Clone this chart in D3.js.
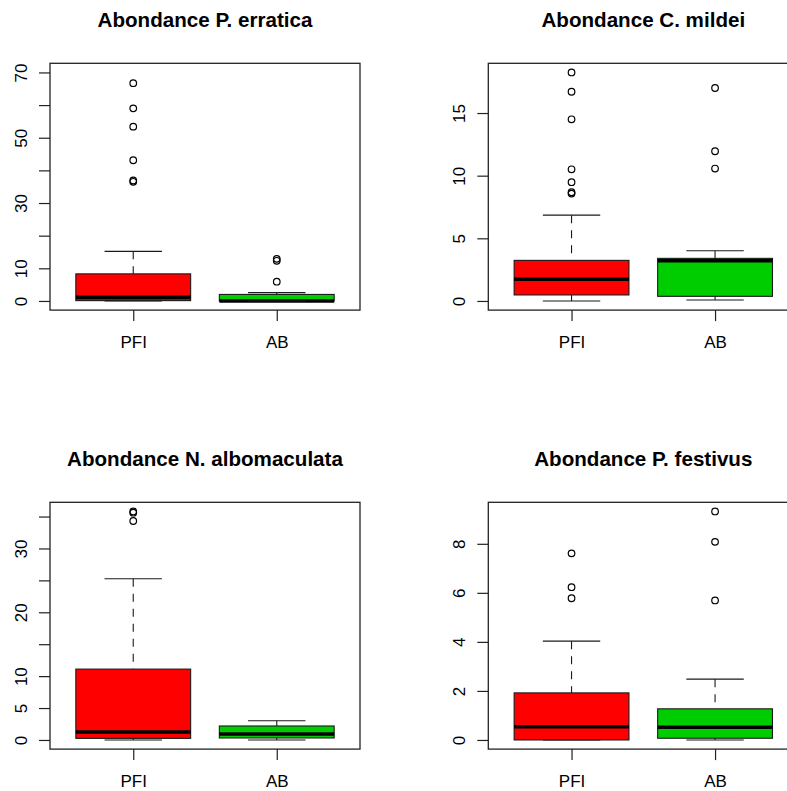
<!DOCTYPE html>
<html>
<head>
<meta charset="utf-8">
<script src="https://cdn.jsdelivr.net/npm/d3@7"></script>
<style>
  html, body { margin: 0; padding: 0; background: #fff; }
  svg { display: block; }
  text { font-family: "Liberation Sans", Arial, Helvetica, sans-serif; fill: #000; }
</style>
</head>
<body>
<svg id="chart" width="787" height="791"></svg>
<script>
// ---------------- data ----------------
const groups = ["PFI", "AB"];
const groupColors = ["#ff0000", "#00cd00"];
const titles = ["Abondance P. erratica", "Abondance C. mildei", "Abondance N. albomaculata", "Abondance P. festivus"];

// [lower whisker, Q1, median, Q3, upper whisker] for PFI and AB
const erraticaStats = [[0, 0.1, 1.1, 8.3, 15.2], [0, 0, 0, 2.0, 2.55]];
const erraticaOutliers = [[66.7, 59.0, 53.4, 43.1, 36.9, 36.5], [12.9, 12.3, 5.9]];
const mildeiStats = [[0, 0.48, 1.73, 3.24, 6.85], [0.08, 0.37, 3.21, 3.40, 4.01]];
const mildeiOutliers = [[18.24, 16.7, 14.5, 10.51, 9.48, 8.68, 8.57], [17.0, 11.95, 10.57]];
const albomaculataStats = [[0, 0.25, 1.25, 11.1, 25.26], [0, 0.31, 0.94, 2.19, 3.02]];
const albomaculataOutliers = [[35.8, 35.6, 34.3], []];
const festivusStats = [[0, 0, 0.54, 1.92, 4.03], [0, 0.07, 0.52, 1.27, 2.48]];
const festivusOutliers = [[7.61, 6.23, 5.78], [9.32, 8.08, 5.69]];

// y-axis ticks and the tick labels that are printed
const erraticaTicks = [0, 10, 20, 30, 40, 50, 60, 70];
const erraticaLabels = [0, 10, 30, 50, 70];
const mildeiTicks = [0, 5, 10, 15];
const mildeiLabels = [0, 5, 10, 15];
const albomaculataTicks = [0, 5, 10, 15, 20, 25, 30, 35];
const albomaculataLabels = [0, 5, 10, 20, 30];
const festivusTicks = [0, 2, 4, 6, 8];
const festivusLabels = [0, 2, 4, 6, 8];

// y limits before the 4% extension (null = use data range)
const erraticaYlim = [0, 70];

// ---------------- layout ----------------
const panels = [
  { title: titles[0], stats: erraticaStats, outliers: erraticaOutliers, ticks: erraticaTicks, labels: erraticaLabels, ylim: erraticaYlim, left: 50, top: 63.3 },
  { title: titles[1], stats: mildeiStats, outliers: mildeiOutliers, ticks: mildeiTicks, labels: mildeiLabels, ylim: null, left: 488.3, top: 63.3 },
  { title: titles[2], stats: albomaculataStats, outliers: albomaculataOutliers, ticks: albomaculataTicks, labels: albomaculataLabels, ylim: null, left: 50, top: 502.3 },
  { title: titles[3], stats: festivusStats, outliers: festivusOutliers, ticks: festivusTicks, labels: festivusLabels, ylim: null, left: 488.3, top: 502.3 }
];
const PW = 310, PH = 246.8;
const lineCol = "#1a1a1a";

const svg = d3.select("#chart");

panels.forEach(p => {
  const g = svg.append("g").attr("transform", `translate(${p.left},${p.top})`);

  // scales (R-style 4% extension)
  const xlim = [0.5, groups.length + 0.5];
  const xpad = 0.04 * (xlim[1] - xlim[0]);
  const x = d3.scaleLinear().domain([xlim[0] - xpad, xlim[1] + xpad]).range([0, PW]);

  let ylim = p.ylim;
  if (!ylim) {
    const all = p.stats.flat().concat(p.outliers.flat());
    ylim = d3.extent(all);
  }
  const ypad = 0.04 * (ylim[1] - ylim[0]);
  const y = d3.scaleLinear().domain([ylim[0] - ypad, ylim[1] + ypad]).range([PH, 0]);

  const boxW = x(1.4) - x(1);       // half of 0.8 box width
  const stapleW = boxW / 2;

  p.stats.forEach((s, i) => {
    const cx = x(i + 1);
    // box
    g.append("rect")
      .attr("x", cx - boxW).attr("width", 2 * boxW)
      .attr("y", y(s[3])).attr("height", Math.max(0, y(s[1]) - y(s[3])))
      .attr("fill", groupColors[i]).attr("stroke", lineCol).attr("stroke-width", 1.1);
    // median
    g.append("line")
      .attr("x1", cx - boxW).attr("x2", cx + boxW)
      .attr("y1", y(s[2])).attr("y2", y(s[2]))
      .attr("stroke", "#000").attr("stroke-width", 3.6);
    // whiskers (from whisker end toward box)
    [[s[0], s[1]], [s[4], s[3]]].forEach(([a, b]) => {
      if (a === b) return;
      g.append("line")
        .attr("x1", cx).attr("x2", cx)
        .attr("y1", y(a)).attr("y2", y(b))
        .attr("stroke", lineCol).attr("stroke-width", 1.1)
        .attr("stroke-dasharray", "8,7");
    });
    // staples
    [s[0], s[4]].forEach(v => {
      g.append("line")
        .attr("x1", cx - stapleW).attr("x2", cx + stapleW)
        .attr("y1", y(v)).attr("y2", y(v))
        .attr("stroke", lineCol).attr("stroke-width", 1.1);
    });
    // outliers
    g.selectAll(null).data(p.outliers[i]).enter().append("circle")
      .attr("cx", cx).attr("cy", d => y(d)).attr("r", 3.3)
      .attr("fill", "none").attr("stroke", "#000").attr("stroke-width", 1.2);
  });

  // frame
  g.append("rect").attr("x", 0).attr("y", 0).attr("width", PW).attr("height", PH)
    .attr("fill", "none").attr("stroke", "#222").attr("stroke-width", 1.3);

  // y axis
  const ya = g.append("g").call(
    d3.axisLeft(y).tickValues(p.ticks).tickSizeInner(11).tickSizeOuter(0)
      .tickFormat(d => p.labels.includes(d) ? String(d) : "")
  );
  ya.select(".domain").remove();
  ya.selectAll(".tick line").attr("stroke", "#222").attr("stroke-width", 1.2);
  ya.selectAll(".tick text")
    .attr("x", null).attr("dy", null)
    .attr("transform", "translate(-23.5,0) rotate(-90)")
    .attr("text-anchor", "middle")
    .style("font-size", "17px")
    .style("font-family", '"Liberation Sans", Arial, sans-serif')
    .attr("fill", "#000");

  // x axis
  const xa = g.append("g").attr("transform", `translate(0,${PH})`).call(
    d3.axisBottom(x).tickValues(groups.map((_, i) => i + 1)).tickSizeInner(11).tickSizeOuter(0)
      .tickFormat(d => groups[d - 1])
  );
  xa.select(".domain").remove();
  xa.selectAll(".tick line").attr("stroke", "#222").attr("stroke-width", 1.2);
  xa.selectAll(".tick text")
    .attr("y", 38).attr("dy", null)
    .style("font-size", "17px")
    .style("font-family", '"Liberation Sans", Arial, sans-serif')
    .attr("fill", "#000");

  // title
  g.append("text")
    .attr("x", PW / 2).attr("y", -36)
    .attr("text-anchor", "middle")
    .style("font-size", "20.6px").style("font-weight", "bold")
    .text(p.title);
});
</script>
</body>
</html>
